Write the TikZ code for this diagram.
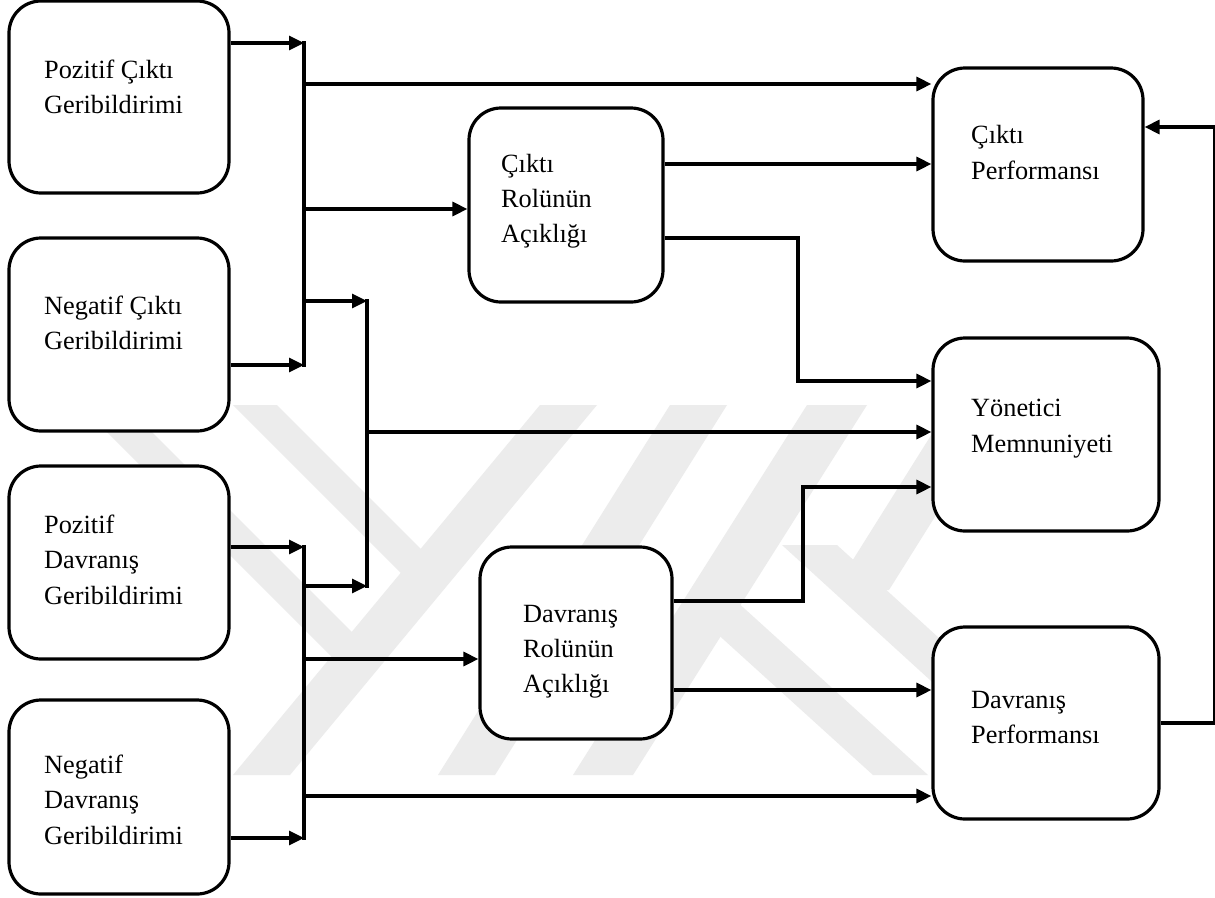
\documentclass[tikz,border=0pt]{standalone}
\usepackage{fontspec}
\setmainfont{Liberation Serif}
\usetikzlibrary{arrows.meta}
\definecolor{wm}{RGB}{236,236,236}
\tikzset{
  box/.style={draw, rectangle, rounded corners=32pt, line width=3.2pt, fill=white, inner sep=0pt},
  lbl/.style={anchor=base west, inner sep=0pt, font=\fontsize{26.3}{35.5}\selectfont},
  conn/.style={line width=3.2pt},
  bus/.style={line width=3.2pt, line cap=rect},
  arr/.style={line width=3.2pt, -{Triangle[length=15pt,width=14pt]}},
}
\begin{document}
\begin{tikzpicture}[x=1pt,y=-1pt]
\useasboundingbox (0,0) rectangle (1215,897);
\fill[white] (0,0) rectangle (1215,897);

% faint background emblem
\fill[wm] (80,405) -- (125,405) -- (365,645) -- (345,670) -- cycle;
\fill[wm] (233,405) -- (277,405) -- (435,563) -- (415,587) -- cycle;
\fill[wm] (540,405) -- (597,405) -- (290,775) -- (233,775) -- cycle;
\fill[wm] (670,405) -- (727,405) -- (495,775) -- (438,775) -- cycle;
\fill[wm] (807,405) -- (867,405) -- (633,775) -- (573,775) -- cycle;
\fill[wm] (950,405) -- (1005,405) -- (889,590) -- (834,590) -- cycle;
\fill[wm] (782,545) -- (837,545) -- (996,690) -- (941,690) -- cycle;
\fill[wm] (680,600) -- (735,600) -- (928,775) -- (873,775) -- cycle;

% boxes
\node[box, minimum width=220pt, minimum height=192pt] (pcg) at (119,97) {};
\node[box, minimum width=220pt, minimum height=193pt] (ncg) at (119,334.5) {};
\node[box, minimum width=220pt, minimum height=193pt] (pdg) at (119,562.5) {};
\node[box, minimum width=220pt, minimum height=194pt] (ndg) at (119,797) {};
\node[box, minimum width=194pt, minimum height=194pt] (cra) at (566,205) {};
\node[box, minimum width=192pt, minimum height=192pt] (dra) at (576,643) {};
\node[box, minimum width=210pt, minimum height=193pt] (cp) at (1038,164.5) {};
\node[box, minimum width=226pt, minimum height=193pt] (ym) at (1046,434.5) {};
\node[box, minimum width=226pt, minimum height=192pt] (dp) at (1046,723) {};

% box texts
\node[lbl] (pcg1) at (44,78) {Pozitif Çıktı};
\node[lbl] (pcg2) at (44,113.5) {Geribildirimi};
\node[lbl] (ncg1) at (44,314) {Negatif Çıktı};
\node[lbl] (ncg2) at (44,349) {Geribildirimi};
\node[lbl] (pdg1) at (44,533) {Pozitif};
\node[lbl] (pdg2) at (44,568) {Davranış};
\node[lbl] (pdg3) at (44,604) {Geribildirimi};
\node[lbl] (ndg1) at (44,773) {Negatif};
\node[lbl] (ndg2) at (44,808) {Davranış};
\node[lbl] (ndg3) at (44,844) {Geribildirimi};
\node[lbl] (cra1) at (501,172) {Çıktı};
\node[lbl] (cra2) at (501,207) {Rolünün};
\node[lbl] (cra3) at (501,242) {Açıklığı};
\node[lbl] (dra1) at (523,622) {Davranış};
\node[lbl] (dra2) at (523,657) {Rolünün};
\node[lbl] (dra3) at (523,692) {Açıklığı};
\node[lbl] (cp1) at (971,143.5) {Çıktı};
\node[lbl] (cp2) at (971,179) {Performansı};
\node[lbl] (ym1) at (971,416.5) {Yönetici};
\node[lbl] (ym2) at (971,452.5) {Memnuniyeti};
\node[lbl] (dp1) at (971,708) {Davranış};
\node[lbl] (dp2) at (971,743) {Performansı};

% junction points
\coordinate (a1) at (304,43);
\coordinate (a2) at (304,365);
\coordinate (a3) at (304,84);
\coordinate (a4) at (304,209);
\coordinate (a5) at (304,301);
\coordinate (c1) at (367,301);
\coordinate (c2) at (367,586);
\coordinate (c3) at (367,432);
\coordinate (b1) at (304,547);
\coordinate (b2) at (304,838);
\coordinate (b3) at (304,586);
\coordinate (b4) at (304,659);
\coordinate (b5) at (304,796);
\coordinate (r1) at (798,238);
\coordinate (r2) at (798,381);
\coordinate (d1) at (803,601);
\coordinate (d2) at (803,487);
\coordinate (cy1) at (933,164);
\coordinate (dy1) at (933,690);
\coordinate (f1) at (1215,723);
\coordinate (f2) at (1215,127);

% collecting lines
\draw[bus] (a1) -- (a2);
\draw[bus] (c1) -- (c2);
\draw[bus] (b1) -- (b2);

% feedback inputs
\draw[arr] (pcg.east |- a1) -- (a1);
\draw[arr] (ncg.east |- a2) -- (a2);
\draw[arr] (pdg.east |- b1) -- (b1);
\draw[arr] (ndg.east |- b2) -- (b2);

% distribution
\draw[arr] (a3) -- (cp.west |- a3);
\draw[arr] (a4) -- (cra.west |- a4);
\draw[arr] (a5) -- (c1);
\draw[arr] (b3) -- (c2);
\draw[arr] (c3) -- (ym.west |- c3);
\draw[arr] (b4) -- (dra.west |- b4);
\draw[arr] (b5) -- (dp.west |- b5);

% role clarity outputs
\draw[arr] (cra.east |- cy1) -- (cp.west |- cy1);
\draw[arr] (cra.east |- r1) -| (r2) -- (ym.west |- r2);
\draw[arr] (dra.east |- d1) -| (d2) -- (ym.west |- d2);
\draw[arr] (dra.east |- dy1) -- (dp.west |- dy1);

% behaviour performance back to output performance
\draw[arr] (dp.east |- f1) -- (f1) -- (f2) -- (cp.east |- f2);
\end{tikzpicture}
\end{document}
